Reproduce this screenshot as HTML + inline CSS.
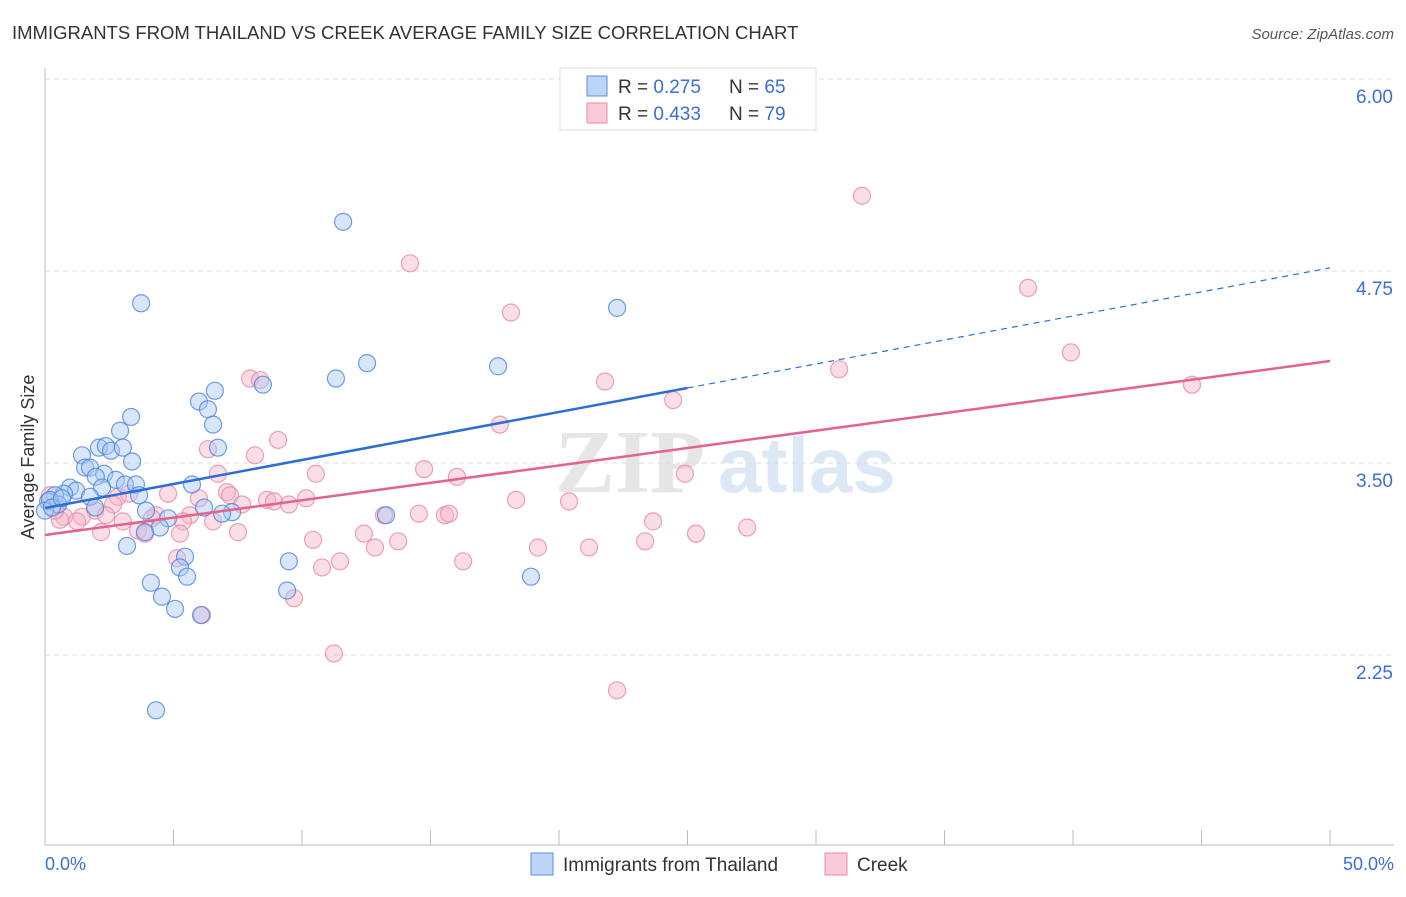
<!DOCTYPE html>
<html><head><meta charset="utf-8"><style>
body{margin:0;background:#fff;font-family:"Liberation Sans",sans-serif;}
</style></head><body>
<svg id="chart" width="1406" height="892" xmlns="http://www.w3.org/2000/svg" style="font-family:'Liberation Sans',sans-serif">
<text x="12" y="39" font-size="18.5" fill="#333">IMMIGRANTS FROM THAILAND VS CREEK AVERAGE FAMILY SIZE CORRELATION CHART</text>
<text x="1394" y="39" font-size="15" fill="#555" text-anchor="end" font-style="italic">Source: ZipAtlas.com</text>
<text x="555" y="492" font-size="90" fill="#e6e6e6" font-weight="bold" font-family="Liberation Serif">ZIP</text>
<text x="718" y="492" font-size="78" fill="#dde8f6" font-weight="bold">atlas</text>
<g id="grid"></g><g id="axes"></g><g id="pts"></g><g id="lines"></g>
<text transform="translate(34,457) rotate(-90)" font-size="18" fill="#333" text-anchor="middle">Average Family Size</text>
<g>
<rect x="560" y="68" width="256" height="62" fill="#fff" stroke="#ddd"/>
<rect x="587" y="76" width="20" height="20" fill="#bcd5f7" stroke="#5b8fe0"/>
<text x="618" y="93" font-size="19" fill="#333">R = <tspan fill="#3b6fd4">0.275</tspan></text>
<text x="729" y="93" font-size="19" fill="#333">N = <tspan fill="#3b6fd4">65</tspan></text>
<rect x="587" y="103" width="20" height="20" fill="#fbcad8" stroke="#e889a6"/>
<text x="618" y="120" font-size="19" fill="#333">R = <tspan fill="#3b6fd4">0.433</tspan></text>
<text x="729" y="120" font-size="19" fill="#333">N = <tspan fill="#3b6fd4">79</tspan></text>
</g>
<g>
<rect x="531" y="853" width="22" height="22" fill="#bcd5f7" stroke="#5b8fe0"/>
<text x="563" y="871" font-size="19" fill="#333">Immigrants from Thailand</text>
<rect x="825" y="853" width="22" height="22" fill="#fbcad8" stroke="#e889a6"/>
<text x="857" y="871" font-size="19" fill="#333">Creek</text>
</g>
<text x="45" y="870" font-size="18" fill="#3b6fd4">0.0%</text>
<text x="1394" y="870" font-size="18" fill="#3b6fd4" text-anchor="end">50.0%</text>
</svg>
<script>
const yTicks=[2.25,3.5,4.75,6.0];
const yTickLabels=["2.25","3.50","4.75","6.00"];
const blueX=[11.6,3.74,22.26,12.53,11.32,17.63,8.48,6.61,5.99,6.34,3.35,6.54,2.92,2.10,2.37,2.57,3.03,6.73,1.44,3.39,1.56,1.75,2.30,1.98,2.76,3.11,3.54,2.22,5.72,0.97,1.21,0.74,0.39,1.75,3.66,0.12,0.51,1.95,3.93,6.19,7.28,6.89,13.27,4.79,4.47,3.89,3.19,9.49,5.45,5.25,5.53,4.12,18.91,4.55,5.06,6.07,9.42,4.32,0.19,0,0.27,0.66];
const blueY=[5.07,4.54,4.51,4.15,4.05,4.13,4.01,3.97,3.90,3.85,3.80,3.75,3.71,3.60,3.61,3.58,3.60,3.60,3.55,3.51,3.47,3.47,3.43,3.41,3.39,3.36,3.36,3.34,3.36,3.34,3.32,3.30,3.29,3.28,3.29,3.25,3.23,3.21,3.19,3.21,3.18,3.17,3.16,3.14,3.08,3.05,2.96,2.86,2.89,2.82,2.76,2.72,2.76,2.63,2.55,2.51,2.67,1.89,3.26,3.19,3.21,3.27];
const pinkX=[31.79,14.2,18.13,38.25,39.92,30.9,21.79,7.98,8.37,44.63,24.44,17.7,9.07,6.34,8.17,14.75,10.54,16.03,24.9,6.73,4.79,7.08,7.20,2.84,3.27,5.99,8.64,8.91,9.49,10.16,7.67,18.33,20.39,2.65,1.95,2.37,5.64,4.32,4.16,1.44,0.74,0.58,3.03,1.25,5.37,6.54,13.19,14.55,15.56,15.72,23.66,3.62,2.18,3.89,5.25,7.51,12.41,10.43,13.74,12.84,19.18,21.17,23.35,25.33,27.32,11.48,10.78,16.27,5.14,9.69,6.11,11.24,22.26,0.19,0.39];
const pinkY=[5.24,4.80,4.48,4.64,4.22,4.11,4.03,4.05,4.04,4.01,3.91,3.75,3.65,3.59,3.55,3.46,3.43,3.41,3.43,3.43,3.30,3.31,3.29,3.28,3.30,3.27,3.26,3.25,3.23,3.27,3.23,3.26,3.25,3.23,3.19,3.16,3.16,3.16,3.14,3.15,3.15,3.13,3.12,3.12,3.12,3.12,3.16,3.17,3.16,3.17,3.12,3.06,3.05,3.04,3.04,3.05,3.04,3.00,2.99,2.95,2.95,2.95,2.99,3.04,3.08,2.86,2.82,2.86,2.88,2.62,2.51,2.26,2.02,3.29,3.19];
const blueTrend=[3.207,4.77];
const pinkTrend=[3.031,4.164];
const NS="http://www.w3.org/2000/svg";
const sx=v=>45+v/50*1285;
const sy=v=>463-(v-3.5)*153.6;
function mk(tag,attrs,parent){const e=document.createElementNS(NS,tag);for(const k in attrs)e.setAttribute(k,attrs[k]);document.getElementById(parent).appendChild(e);return e;}
yTicks.forEach((t,i)=>{
 const l=mk('line',{x1:45,x2:1394,y1:sy(t),y2:sy(t),stroke:'#ddd','stroke-dasharray':'5,4'},'grid');
 
 
 const tx=mk('text',{x:1393,y:sy(t)+24,'font-size':19,fill:'#3b6fd4','text-anchor':'end'},'grid');
 tx.textContent=yTickLabels[i];
 
 
});
const ax=mk('line',{x1:45,x2:45,y1:68,y2:845,stroke:'#bbb'},'axes');


const bx=mk('line',{x1:45,x2:1394,y1:845,y2:845,stroke:'#bbb'},'axes');


for(let p=0;p<=50;p+=5){
 const t=mk('line',{x1:sx(p),x2:sx(p),y1:830,y2:845,stroke:'#bbb'},'axes');
 
 
}
function dots(X,Y,fill,stroke,name){
 X.forEach((x,i)=>{
  const c=mk('circle',{cx:sx(x),cy:sy(Y[i]),r:8.5,fill:fill,'fill-opacity':0.45,stroke:stroke,'stroke-width':1.2,'stroke-opacity':0.8},'pts');
  
  
 });
}
dots(pinkX,pinkY,'#f7b3c8','#e889a6','creek-point');
dots(blueX,blueY,'#a9c8f3','#4d84dc','thailand-point');
const xEnd=25;
const b1=mk('line',{x1:sx(0),y1:sy(blueTrend[0]),x2:sx(xEnd),y2:sy(blueTrend[0]+(blueTrend[1]-blueTrend[0])*xEnd/50),stroke:'#2b6fd6','stroke-width':2.5},'lines');


const b2=mk('line',{x1:sx(xEnd),y1:sy(blueTrend[0]+(blueTrend[1]-blueTrend[0])*xEnd/50),x2:sx(50),y2:sy(blueTrend[1]),stroke:'#2b6fd6','stroke-width':1.2,'stroke-dasharray':'6,5'},'lines');


const p1=mk('line',{x1:sx(0),y1:sy(pinkTrend[0]),x2:sx(50),y2:sy(pinkTrend[1]),stroke:'#e4628c','stroke-width':2.5},'lines');


</script>
</body></html>
